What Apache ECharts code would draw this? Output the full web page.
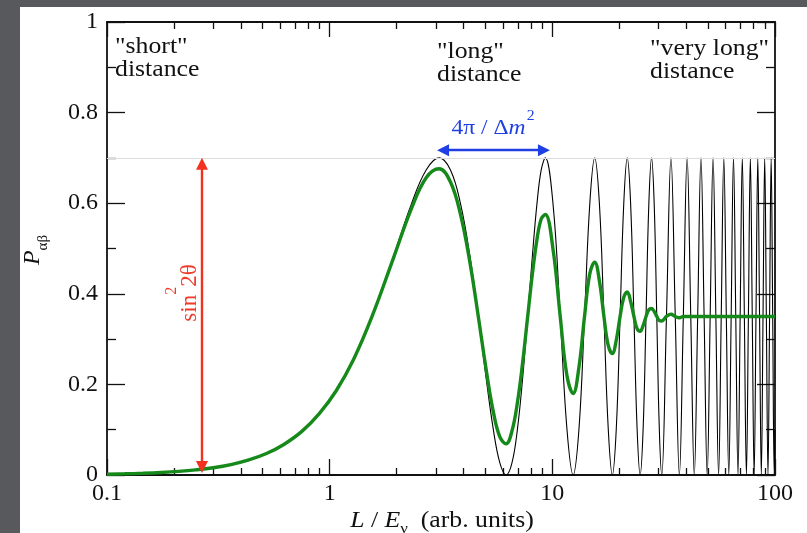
<!DOCTYPE html>
<html>
<head>
<meta charset="utf-8">
<script src="https://cdn.jsdelivr.net/npm/echarts@6/dist/echarts.min.js"></script>
<style>
html,body{margin:0;padding:0;background:#57595c;}
#chart{width:807px;height:533px;}
</style>
</head>
<body>
<div id="chart"></div>
<script>
// ---- data ----
// thin black curve: full oscillation P(L/E)
const blackL = [0.1,0.12,0.145,0.175,0.21,0.25,0.3,0.36,0.43,0.52,0.62,0.75,0.9,1.07,1.28,
  1.55,1.9375,2.325,2.7125,3.1,3.4875,3.875,4.2625,4.65,5.0375,5.425,5.8125,6.2,6.5875,6.975,7.3625,
  7.75,8.1375,8.525,8.9125,9.3,
  10.075,10.85,11.625,12.4,13.175,13.95,14.725,15.5,16.275,17.05,17.825,18.6,19.375,20.15,20.925,
  21.7,22.475,23.25,24.025,24.8,25.575,26.35,27.125,27.9,28.675,29.45,30.225,31.0,
  32.55,34.1,35.65,37.2,38.75,40.3,41.85,43.4,44.95,46.5,48.05,49.6,51.15,52.7,54.25,55.8,57.35,
  58.9,60.45,62.0,63.55,65.1,66.65,68.2,69.75,71.3,72.85,74.4,75.95,77.5,79.05,80.6,82.15,83.7,
  85.25,86.8,88.35,89.9,91.45,93.0,94.55,96.1,97.65,99.2,100];
const blackP = [0.0018,0.0026,0.0038,0.0055,0.0079,0.0112,0.016,0.023,0.0327,0.0475,0.0669,0.0963,0.1362,0.186,0.2549,
  0.35,0.484,0.5975,0.6734,0.7,0.6734,0.5975,0.484,0.35,0.216,0.1025,0.0266,0,0.0266,0.1025,0.216,
  0.35,0.484,0.5975,0.6734,0.7,
  0.5975,0.35,0.1025,0,0.1025,0.35,0.5975,0.7,0.5975,0.35,0.1025,0,0.1025,0.35,0.5975,
  0.7,0.5975,0.35,0.1025,0,0.1025,0.35,0.5975,0.7,0.5975,0.35,0.1025,0,
  0.35,0.7,0.35,0,0.35,0.7,0.35,0,0.35,0.7,0.35,0,0.35,0.7,0.35,0,0.35,
  0.7,0.35,0,0.35,0.7,0.35,0,0.35,0.7,0.35,0,0.35,0.7,0.35,0,0.35,0.7,
  0.35,0,0.35,0.7,0.35,0,0.35,0.7,0.35,0,0.1];

// thick green curve: averaged oscillation
const greenL = [0.1,0.12,0.145,0.175,0.21,0.25,0.3,0.36,0.43,0.52,0.62,0.75,0.9,1.07,1.28,
  1.55,1.9375,2.325,2.7125,3.1,3.4875,3.875,4.2625,4.65,5.0375,5.425,5.8125,6.2,6.5875,6.975,7.3625,
  7.75,8.1375,8.525,8.9125,9.3,
  10.075,10.85,11.625,12.4,13.175,13.95,14.725,15.5,16.275,17.05,17.825,18.6,19.375,20.15,20.925,
  21.7,22.475,23.25,24.025,24.8,25.575,26.35,27.125,27.9,28.675,29.45,30.225,31.0,
  32.55,34.1,35.65,37.2,38.75,100];
const greenP = [0.0018,0.0026,0.0038,0.0055,0.0079,0.0112,0.016,0.023,0.0327,0.0475,0.0669,0.0963,0.1362,0.186,0.2549,
  0.35,0.48,0.587,0.656,0.676,0.647,0.574,0.47,0.35,0.2345,0.141,0.084,0.069,0.097,0.161,0.25,
  0.35,0.444,0.519,0.565,0.575,
  0.498,0.35,0.22,0.18,0.239,0.35,0.444,0.47,0.428,0.35,0.286,0.268,0.298,0.35,0.392,
  0.404,0.383,0.35,0.323,0.317,0.33,0.35,0.365,0.3675,0.361,0.35,0.341,0.34,
  0.35,0.355,0.35,0.347,0.35,0.35];

const amplitudeLevel = 0.7;              // sin^2 2theta
const redArrowL = 0.267;                 // the sin^2 2theta arrow
const redArrowP = [0.687, 0.0177];
const blueArrowL = [3.23, 9.17];         // the 4pi / dm^2 arrow
const blueArrowP = 0.717;

const xMajorTicks = [0.1, 1, 10, 100];
const xTickLabels = ['0.1', '1', '10', '100'];
const xMinorTicks = [0.2,0.3,0.4,0.5,0.6,0.7,0.8,0.9,2,3,4,5,6,7,8,9,20,30,40,50,60,70,80,90];
const yTickLabels = ['0', '0.2', '0.4', '0.6', '0.8', '1'];

// ---- chart ----
const serif = 'Liberation Serif';
const ink = '#111';
const zip = (a, b) => a.map((v, i) => [v, b[i]]);

function xLabel(v) {
  const i = xMajorTicks.findIndex(t => Math.abs(Math.log10(t) - Math.log10(v)) < 1e-6);
  return i >= 0 ? xTickLabels[i] : '';
}
function yLabel(v) {
  const i = Math.round(v / 0.2);
  return yTickLabels[i] !== undefined ? yTickLabels[i] : '';
}

const tickStyle = { color: ink, width: 1.3 };
const lineStyleAxis = { color: ink, width: 1.8 };
function xAx(pos, ticks, len, showLine, showLabel) {
  return {
    type: 'log', logBase: 10, min: 0.1, max: 100, position: pos,
    axisLine: { show: showLine, onZero: false, lineStyle: lineStyleAxis },
    axisTick: { show: true, inside: true, length: len, customValues: ticks, lineStyle: tickStyle },
    axisLabel: { show: showLabel, customValues: xMajorTicks, formatter: xLabel, fontFamily: serif,
      fontSize: 24, color: ink, margin: 7 },
    minorTick: { show: false }, splitLine: { show: false }
  };
}
function yAx(pos, showLabel) {
  return {
    type: 'value', min: 0, max: 1, interval: 0.2, position: pos,
    axisLine: { show: true, onZero: false, lineStyle: lineStyleAxis },
    axisTick: { show: true, inside: true, length: 18, lineStyle: tickStyle },
    minorTick: { show: true, splitNumber: 2, length: 9, lineStyle: tickStyle },
    axisLabel: { show: showLabel, formatter: yLabel, fontFamily: serif, fontSize: 24, color: ink, margin: 9 },
    splitLine: { show: false }
  };
}
function block(x, y, txt) {
  return { type: 'text', x: x, y: y, scaleX: 1.12, silent: true,
    style: { text: txt, fontFamily: serif, fontSize: 23, fill: ink, lineHeight: 23,
      textAlign: 'left', textVerticalAlign: 'top' } };
}

const chart = echarts.init(document.getElementById('chart'), null, { renderer: 'canvas' });
chart.setOption({
  animation: false,
  backgroundColor: '#57595c',
  grid: { left: 107, right: 32, top: 22, bottom: 58, containLabel: false },
  xAxis: [
    xAx('bottom', xMajorTicks, 16, true, true),
    xAx('bottom', xMinorTicks, 7, false, false),
    xAx('top', xMajorTicks, 15, true, false),
    xAx('top', xMinorTicks, 7, false, false)
  ],
  yAxis: [yAx('left', true), yAx('right', false)],
  graphic: [
    { type: 'rect', z: -10, silent: true, shape: { x: 20, y: 7, width: 787, height: 526 }, style: { fill: '#ffffff' } },
    block(115, 35, '"short"\ndistance'),
    block(437, 40, '"long"\ndistance'),
    block(650, 37, '"very long"\ndistance'),
    { type: 'text', x: 493, y: 128, scaleX: 1.12, silent: true, style: {
        text: '{a|4π / Δ}{i|m}{s|2}', textAlign: 'center', textVerticalAlign: 'middle',
        rich: {
          a: { fontFamily: serif, fontSize: 21, fill: '#1f3fe6' },
          i: { fontFamily: serif, fontSize: 21, fontStyle: 'italic', fill: '#1f3fe6' },
          s: { fontFamily: serif, fontSize: 14, fill: '#1f3fe6', padding: [0, 0, 24, 1] }
        } } },
    { type: 'text', x: 190, y: 293, rotation: Math.PI / 2, silent: true, style: {
        text: '{a|sin}{s|2}{a|2θ}', textAlign: 'center', textVerticalAlign: 'middle',
        rich: {
          a: { fontFamily: serif, fontSize: 23, fill: '#f03a2a' },
          s: { fontFamily: serif, fontSize: 16, fill: '#f03a2a', padding: [0, 0, 37, 0] }
        } } },
    { type: 'text', x: 33, y: 250, rotation: Math.PI / 2, silent: true, style: {
        text: '{p|P}{s|αβ}', textAlign: 'center', textVerticalAlign: 'middle',
        rich: {
          p: { fontFamily: serif, fontSize: 24, fontStyle: 'italic', fill: ink },
          s: { fontFamily: serif, fontSize: 15, fill: ink, padding: [20, 0, 0, 0] }
        } } },
    { type: 'text', x: 442, y: 521, scaleX: 1.12, silent: true, style: {
        text: '{i|L}{n| / }{i|E}{s|ν}{n|  (arb. units)}', textAlign: 'center', textVerticalAlign: 'middle',
        rich: {
          n: { fontFamily: serif, fontSize: 23, fill: ink },
          i: { fontFamily: serif, fontSize: 23, fontStyle: 'italic', fill: ink },
          s: { fontFamily: serif, fontSize: 15, fill: ink, padding: [16, 0, 0, 0] }
        } } }
  ],
  series: [
    {
      name: 'reference', type: 'line', data: [], silent: true, z: 1,
      markLine: {
        silent: true, animation: false, label: { show: false }, symbol: 'none',
        data: [
          [{ coord: [0.1, amplitudeLevel], lineStyle: { color: '#dddddd', width: 1, type: 'solid' } },
           { coord: [100, amplitudeLevel] }]
        ]
      }
    },
    {
      name: 'oscillation', type: 'line', data: zip(blackL, blackP), showSymbol: false, smooth: 0.4,
      lineStyle: { color: '#000', width: 1.1 }, z: 3, silent: true
    },
    {
      name: 'averaged', type: 'line', data: zip(greenL, greenP), showSymbol: false, smooth: 0.4,
      lineStyle: { color: '#15891a', width: 3.4 }, z: 4, silent: true
    },
    {
      name: 'arrows', type: 'line', data: [], silent: true, z: 5,
      markLine: {
        silent: true, animation: false, label: { show: false },
        symbol: ['triangle', 'triangle'], symbolSize: [12, 12],
        data: [
          [{ coord: [redArrowL, redArrowP[0]], lineStyle: { color: '#f0321e', width: 2.4, type: 'solid' }, itemStyle: { color: '#f0321e' } },
           { coord: [redArrowL, redArrowP[1]] }],
          [{ coord: [blueArrowL[0], blueArrowP], lineStyle: { color: '#1f3fe6', width: 2.4, type: 'solid' }, itemStyle: { color: '#1f3fe6' } },
           { coord: [blueArrowL[1], blueArrowP] }]
        ]
      }
    }
  ]
});
</script>
</body>
</html>
